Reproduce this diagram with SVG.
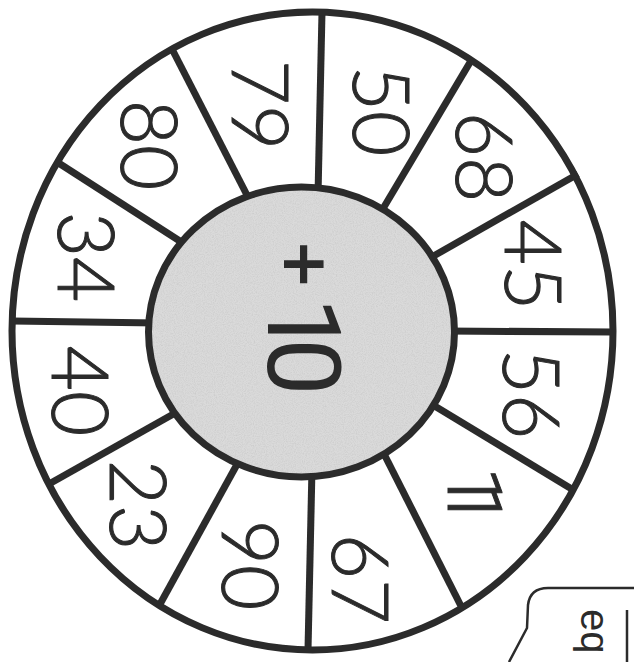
<svg xmlns="http://www.w3.org/2000/svg" width="634" height="662" viewBox="0 0 634 662">
<style>
.ln{stroke:#2b2b2b;stroke-width:7;fill:none;stroke-linecap:butt}
.num{font-family:Lato,"Liberation Sans",sans-serif;font-weight:300;font-size:78px;fill:#2b2b2b;stroke:#2b2b2b;stroke-width:1;text-anchor:middle}
.bar{font-family:Roboto,"Liberation Sans",sans-serif;font-weight:300;font-size:76px;fill:#2b2b2b;stroke:#2b2b2b;stroke-width:1;text-anchor:middle}
.ctr{font-family:Roboto,Lato,"Liberation Sans",sans-serif;font-weight:400;font-size:102px;fill:#2b2b2b;text-anchor:middle}
.plus{font-family:Lato,"Liberation Sans",sans-serif;font-weight:700;font-size:78px;fill:#2b2b2b;text-anchor:middle}
.tab{stroke:#2b2b2b;stroke-width:2.5;fill:none}
.tabtxt{font-family:"Liberation Sans",Arial,sans-serif;font-size:40px;fill:#2b2b2b}
</style>
<defs>
<filter id="grain" x="0" y="0" width="100%" height="100%">
<feTurbulence type="fractalNoise" baseFrequency="0.9" numOctaves="2" seed="4" result="n"/>
<feColorMatrix in="n" type="matrix" values="0 0 0 0 0.55 0 0 0 0 0.55 0 0 0 0 0.55 1.2 0 0 0 -0.45" result="g"/>
<feComposite in="g" in2="SourceAlpha" operator="in"/>
</filter>
</defs>
<rect width="634" height="662" fill="#ffffff"/>
<g id="connectors">
<line class="ln" x1="322" y1="12" x2="318" y2="195"/>
<line class="ln" x1="472" y1="59" x2="381" y2="212"/>
<line class="ln" x1="578" y1="174" x2="430" y2="258"/>
<line class="ln" x1="613" y1="332" x2="445" y2="331"/>
<line class="ln" x1="575" y1="491" x2="428" y2="402"/>
<line class="ln" x1="462" y1="608" x2="381" y2="448"/>
<line class="ln" x1="308" y1="650" x2="312" y2="468"/>
<line class="ln" x1="159" y1="606" x2="240" y2="459"/>
<line class="ln" x1="49" y1="484" x2="177" y2="412"/>
<line class="ln" x1="12" y1="321" x2="158" y2="323"/>
<line class="ln" x1="57" y1="162" x2="186" y2="245"/>
<line class="ln" x1="172" y1="49" x2="249" y2="199"/>
</g>
<g id="rim">
<ellipse class="ln" cx="312.5" cy="331" rx="300.5" ry="319"/>
</g>
<g id="hub">
<ellipse cx="301.5" cy="332" rx="153" ry="145" fill="#dadada"/>
<ellipse cx="301.5" cy="332" rx="153" ry="145" fill="#000" filter="url(#grain)"/>
<ellipse cx="301.5" cy="332" rx="153" ry="145" fill="none" stroke="#2b2b2b" stroke-width="7"/>
<text transform="translate(305,0) rotate(90)"><tspan class="plus" x="264" y="28">+</tspan><tspan class="ctr" x="326" y="37">1</tspan><tspan class="ctr" x="367" y="37">0</tspan></text>
</g>
<g id="seg-50"><text class="num" transform="translate(381,111) rotate(90)" y="28">50</text></g>
<g id="seg-68"><text class="num" transform="translate(484,157) rotate(90)" y="28">68</text></g>
<g id="seg-45"><text class="num" transform="translate(533,265) rotate(90)" y="28">45</text></g>
<g id="seg-56"><text class="num" transform="translate(531,394) rotate(90)" y="28">56</text></g>
<g id="seg-11"><text class="bar" transform="translate(476,494) rotate(90)" y="28"><tspan x="-6">1</tspan><tspan x="11">1</tspan></text></g>
<g id="seg-67"><text class="num" transform="translate(360,579) rotate(90)" y="28">67</text></g>
<g id="seg-90"><text class="num" transform="translate(250,565) rotate(90)" y="28">90</text></g>
<g id="seg-23"><text class="num" transform="translate(138,505) rotate(90)" y="28">23</text></g>
<g id="seg-40"><text class="num" transform="translate(80,391) rotate(90)" y="28">40</text></g>
<g id="seg-34"><text class="num" transform="translate(86,257) rotate(90)" y="28">34</text></g>
<g id="seg-80"><text class="num" transform="translate(149,145) rotate(90)" y="28">80</text></g>
<g id="seg-79"><text class="num" transform="translate(260,105) rotate(90)" y="28">79</text></g>
<g id="tab">
<path class="tab" d="M634 588 H548 Q530 588 528 605 L527 628 L509 662"/>
<line class="tab" x1="627" y1="610" x2="627" y2="662"/>
<text class="tabtxt" transform="translate(581,0) rotate(90)" x="609" y="0">eq</text>
</g>
</svg>
